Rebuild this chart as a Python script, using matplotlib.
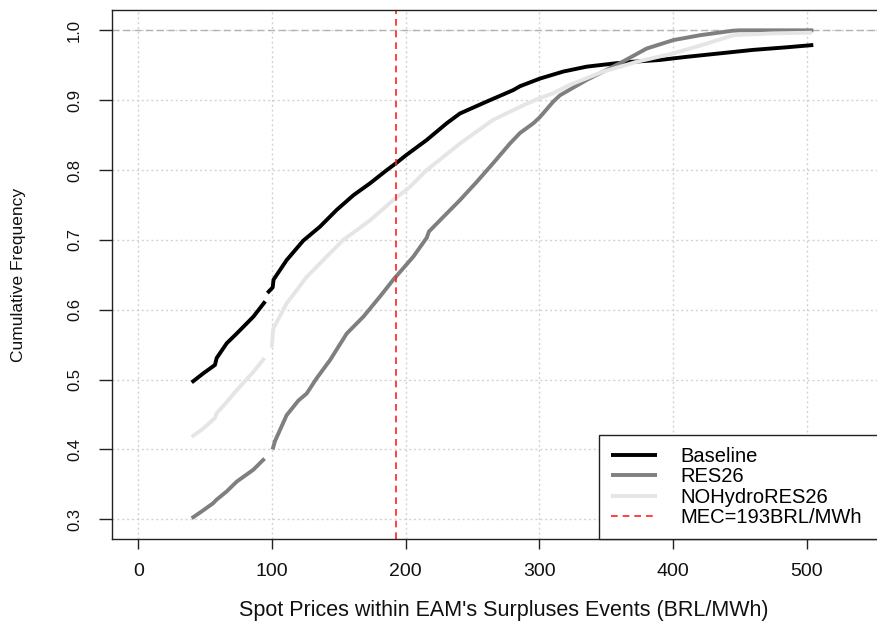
#!/usr/bin/env python3
"""Cumulative frequency of spot prices within EAM surplus events, three scenarios."""

import numpy as np
import matplotlib

matplotlib.use("Agg")
import matplotlib.pyplot as plt

# ECDF points per scenario; NaN marks a jump where the curve breaks
baseline_price = [40, 48.7, 57.4, 58.7, 66.2, 73.7, 86.1, 95, np.nan,
                  96.6, 100.6, 101.2, 111, 123.5, 136, 148.5, 161, 173.4, 186, 193,
                  200.9, 215.8, 230.8, 240.7, 260.7, 280.6, 285.6, 300.6, 318, 335.5,
                  358, 370, 390, 410, 435, 460, 485, 505]
baseline_freq = [0.496, 0.509, 0.521, 0.531, 0.552, 0.566, 0.590, 0.612, np.nan,
                 0.624, 0.632, 0.643, 0.671, 0.699, 0.719, 0.743, 0.764, 0.781, 0.800, 0.810,
                 0.822, 0.843, 0.867, 0.881, 0.898, 0.9145, 0.920, 0.931, 0.941, 0.948,
                 0.953, 0.955, 0.9575, 0.962, 0.967, 0.972, 0.9757, 0.979]

res26_price = [40, 48.7, 56, 58.5, 66.2, 73.7, 86.1, 94.5, np.nan,
               100.5, 102.3, 111, 119.8, 126, 133.5, 143.5, 156, 168.4, 180.9, 190.8,
               205.8, 215.8, 217.5, 228.3, 240.7, 253.2, 265.6, 278.1, 285.6, 295.6,
               300.6, 310.5, 315.5, 335.5, 360.4, 380.4, 400.3, 420.3, 445, 450, 505]
res26_freq = [0.3015, 0.313, 0.323, 0.328, 0.340, 0.354, 0.371, 0.387, np.nan,
              0.400, 0.412, 0.449, 0.470, 0.480, 0.502, 0.528, 0.566, 0.590, 0.619, 0.643,
              0.676, 0.703, 0.712, 0.733, 0.757, 0.783, 0.810, 0.838, 0.853, 0.867,
              0.876, 0.898, 0.907, 0.929, 0.953, 0.974, 0.986, 0.993, 0.9995, 1.0, 1.0]

nohydro_price = [40, 48.7, 57.4, 58.7, 66.2, 73.7, 86.1, 94.5, np.nan,
                 99.9, 101, 111, 118.6, 126, 143.5, 153.4, 163.5, 173.4, 190.8, 203.3,
                 215.8, 228.3, 240.7, 265.6, 290.6, 300.6, 310.5, 323, 348, 373,
                 400.3, 425.3, 445.2, 475, 504]
nohydro_freq = [0.418, 0.430, 0.445, 0.452, 0.468, 0.485, 0.511, 0.531, np.nan,
                0.546, 0.573, 0.609, 0.628, 0.647, 0.681, 0.700, 0.714, 0.728, 0.757, 0.776,
                0.800, 0.819, 0.838, 0.872, 0.895, 0.903, 0.910, 0.922, 0.941, 0.955,
                0.967, 0.981, 0.993, 0.9957, 0.9966]

mec_price = 193
x_ticks = [0, 100, 200, 300, 400, 500]
y_ticks = [0.3, 0.4, 0.5, 0.6, 0.7, 0.8, 0.9, 1.0]

plt.rcParams["font.family"] = ["Liberation Sans", "DejaVu Sans"]

fig = plt.figure(figsize=(8.78, 6.25), dpi=100)
ax = fig.add_axes([0.1279, 0.1371, 0.8905, 0.8469])
ax.set_xlim(-19.4, 565.5)
ax.set_ylim(0.2714, 1.0291)

for v in x_ticks:
    ax.axvline(v, color="#d3d3d3", lw=1.0, ls=(0, (1.5, 2.0)), zorder=0)
for v in y_ticks:
    ax.axhline(v, color="#d3d3d3", lw=1.0, ls=(0, (1.5, 2.0)), zorder=0)
ax.axhline(1.0, color="#b3b3b3", lw=1.0, ls=(0, (5, 3)), zorder=1)

ax.plot(baseline_price, baseline_freq, color="black", lw=2.8,
        solid_capstyle="butt", label="Baseline")
ax.plot(res26_price, res26_freq, color="#7f7f7f", lw=2.8,
        solid_capstyle="butt", label="RES26")
ax.plot(nohydro_price, nohydro_freq, color="#e5e5e5", lw=2.8,
        solid_capstyle="butt", label="NOHydroRES26")
ax.axvline(mec_price, color="#ff2020", lw=1.2, ls=(0, (4, 3)),
           label=f"MEC={mec_price}BRL/MWh")

ax.set_xticks(x_ticks)
ax.set_yticks(y_ticks)
ax.set_yticklabels([f"{v:.1f}" for v in y_ticks], rotation=90, va="center")
ax.tick_params(axis="x", direction="out", length=7.4, width=1.0, color="#222222",
               labelsize=14, pad=10, labelcolor="#111111")
ax.tick_params(axis="y", direction="out", length=9.4, width=1.0, color="#222222",
               labelsize=12, pad=12.5, labelcolor="#111111")
for sp in ax.spines.values():
    sp.set_color("#222222")
    sp.set_linewidth(1.0)

ax.set_xlabel("Spot Prices within EAM's Surpluses Events (BRL/MWh)", fontsize=15.5,
              color="#111111", va="center")
ax.xaxis.set_label_coords(0.5006, -0.1336)
ax.set_ylabel("Cumulative Frequency", fontsize=12.5, color="#111111", va="center")
ax.yaxis.set_label_coords(-0.12, 0.5)

# legend sits in the lower right corner, stretched out to the right spine
leg = ax.legend(loc="lower left", bbox_to_anchor=(0.6225, 0.0, 0.3775, 0.1938),
                mode="expand", borderaxespad=0,
                fontsize=14.5, frameon=True, fancybox=False, framealpha=1,
                borderpad=0.6, handlelength=2.3, handletextpad=1.15, labelspacing=0.07)
leg.get_frame().set_edgecolor("#222222")
leg.get_frame().set_linewidth(1.0)

fig.savefig("out.png", dpi=100)
